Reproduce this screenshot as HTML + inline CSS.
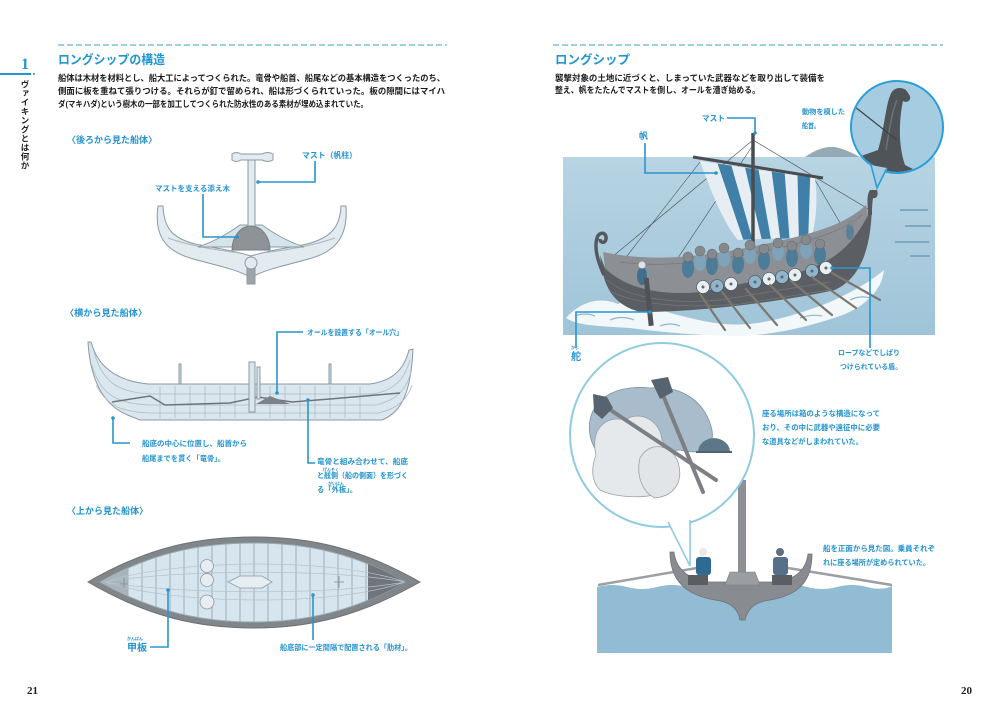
<!DOCTYPE html>
<html><head><meta charset="utf-8">
<style>
html,body{margin:0;padding:0;background:#fff;}
body{width:1000px;height:707px;overflow:hidden;position:relative;}
svg{position:absolute;left:0;top:0;}
text{font-family:"Liberation Sans","Noto Sans CJK JP",sans-serif;font-weight:bold;}
.b{fill:#1a1a1a;font-size:8.4px;}
.l{fill:#2393d0;font-size:7.4px;}
.h{fill:#2196d3;font-size:12.5px;}
.r{fill:#2393d0;font-size:4px;}
.c{stroke:#2a95cc;stroke-width:1.6;fill:none;}
.d{fill:#2a95cc;}
.pn{font-family:"Liberation Serif",serif;font-size:11px;fill:#222;}
#side{position:absolute;left:20px;top:80px;writing-mode:vertical-rl;font-family:"Liberation Sans","Noto Sans CJK JP",sans-serif;font-weight:bold;font-size:8.5px;letter-spacing:0.5px;line-height:10px;color:#222;}
</style></head><body>
<svg width="1000" height="707" viewBox="0 0 1000 707">
<defs>
 <clipPath id="lens"><path d="M100,582 C155,551 205,543 254,543 C305,543 355,553 405,582 C355,611 305,622 254,622 C205,622 155,613 100,582 Z"/></clipPath>
 <clipPath id="sail"><path d="M700,161 L815,178 C818,200 816,220 812,236 C790,240 760,238 738,240 C725,225 712,195 700,161 Z"/></clipPath>
 <clipPath id="c1"><circle cx="897" cy="127" r="45"/></clipPath>
 <clipPath id="c2"><circle cx="662" cy="435" r="91"/></clipPath>
 <linearGradient id="sea" x1="0" y1="0" x2="0" y2="1"><stop offset="0" stop-color="#b7d4e3"/><stop offset="1" stop-color="#9fc4d8"/></linearGradient>
</defs>

<!-- ============ LEFT PAGE ============ -->
<line x1="58" y1="45" x2="447" y2="45" stroke="#7cc0dc" stroke-width="1.5" stroke-dasharray="6 3"/>
<text x="25" y="69" text-anchor="middle" style="font-family:'Liberation Serif',serif;font-size:16px;fill:#2196d3;font-weight:bold">1</text>
<line x1="0" y1="74" x2="31" y2="74" stroke="#2196d3" stroke-width="2"/>
<circle cx="34" cy="74" r="1" fill="#2196d3"/>

<text class="h" x="58" y="64" textLength="107" lengthAdjust="spacingAndGlyphs">ロングシップの構造</text>
<text class="b" x="58" y="81" textLength="387" lengthAdjust="spacingAndGlyphs">船体は木材を材料とし、船大工によってつくられた。竜骨や船首、船尾などの基本構造をつくったのち、</text>
<text class="b" x="58" y="94" textLength="387" lengthAdjust="spacingAndGlyphs">側面に板を重ねて張りつける。それらが釘で留められ、船は形づくられていった。板の隙間にはマイハ</text>
<text class="b" x="58" y="107" textLength="310" lengthAdjust="spacingAndGlyphs">ダ(マキハダ)という樹木の一部を加工してつくられた防水性のある素材が埋め込まれていた。</text>

<!-- back view -->
<text class="l" x="67" y="143" style="font-size:9px" textLength="90" lengthAdjust="spacingAndGlyphs">〈後ろから見た船体〉</text>
<g stroke="#8c9aa3" stroke-width="1" fill="#e1ebf0">
 <path d="M158,206 L163,206 C164,228 172,238 195,244 C215,248 232,250 251,256 C270,250 287,248 307,244 C330,238 340,228 341,206 L346,206 C348,234 338,250 312,258 C292,264 270,268 256,275 L246,275 C232,268 210,264 190,258 C164,250 154,234 158,206 Z"/>
 <path d="M168,238 C190,246 215,250 240,253" fill="none" stroke="#a9b6bd"/>
 <path d="M335,238 C312,246 288,250 262,253" fill="none" stroke="#a9b6bd"/>
 <rect x="247" y="262" width="8" height="22" fill="#9ea5aa"/>
 <circle cx="251" cy="263" r="6"/>
 <path d="M198,247 C218,240 230,232 240,225 L262,225 C272,232 284,240 304,247 Z" fill="#d5e3ea"/>
 <rect x="248" y="158" width="7" height="70"/>
 <path d="M232,154 Q236,151 241,154 L262,154 Q268,151 273,154 L273,160 Q268,163 262,160 L241,160 Q236,163 232,160 Z"/>
 <path d="M232,250 A19,24 0 0 1 270,250 Z" fill="#8e9397" stroke="#777c80"/>
</g>
<text class="l" x="302" y="158" textLength="55" lengthAdjust="spacingAndGlyphs" style="font-size:8px">マスト（帆柱）</text>
<polyline class="c" points="315,161 315,182 258,182"/><circle class="d" cx="258" cy="182" r="1.8"/>
<text class="l" x="155" y="191" textLength="75" lengthAdjust="spacingAndGlyphs">マストを支える添え木</text>
<polyline class="c" points="203,194 203,237 237,237"/><circle class="d" cx="237" cy="237" r="1.8"/>

<!-- side view -->
<text class="l" x="65" y="316" style="font-size:9px" textLength="82" lengthAdjust="spacingAndGlyphs">〈横から見た船体〉</text>
<g stroke="#8c9aa3" stroke-width="1">
 <rect x="179" y="364" width="2" height="22" fill="#cfdde5"/>
 <rect x="329" y="364" width="2" height="22" fill="#cfdde5"/>
 <path d="M88,342 C90,375 100,405 130,416 L140,420 L382,420 C402,412 411,392 413,349 L409,350 C404,370 392,381 370,384 L148,384 C118,381 98,368 91,342 Z" fill="#dbe7ee"/>
 <path d="M94,352 C102,380 115,392 150,394 L372,394 C395,391 405,378 410,360" fill="none" stroke="#aebcc4" stroke-width="0.8"/>
 <path d="M92,365 C100,395 118,404 150,405 L375,405 C397,401 407,388 411,372" fill="none" stroke="#aebcc4" stroke-width="0.8"/>
 <path d="M96,385 C108,408 125,412 150,413 L378,413 C398,409 408,398 412,385" fill="none" stroke="#aebcc4" stroke-width="0.8"/>
 <path d="M160,386 V418 M175,386 V418 M190,386 V418 M205,386 V418 M220,386 V418 M235,386 V418 M270,386 V418 M285,386 V418 M300,386 V418 M315,386 V418 M330,386 V418 M345,386 V418 M360,386 V418" stroke="#a8b7bf" stroke-width="0.7"/>
 <polyline points="112,402 150,396 165,405 230,403 258,397 292,402 330,399 400,393" fill="none" stroke="#6c757b" stroke-width="1.5"/>
 <path d="M256,404 L270,396 L290,404 Z" fill="#7b8388" stroke="none"/>
 <rect x="249" y="362" width="6" height="50" fill="#dbe7ee"/>
 <rect x="257" y="367" width="3" height="32" fill="#dbe7ee"/>
</g>
<text class="l" x="307" y="335" textLength="96" lengthAdjust="spacingAndGlyphs">オールを設置する「オール穴」</text>
<polyline class="c" points="303,332 277,332 277,393"/><circle class="d" cx="277" cy="393" r="1.8"/>
<text class="l" x="142" y="446" textLength="105" lengthAdjust="spacingAndGlyphs">船底の中心に位置し、船首から</text>
<text class="l" x="142" y="461" textLength="83" lengthAdjust="spacingAndGlyphs">船尾までを貫く「竜骨」。</text>
<polyline class="c" points="113,418 113,443 130,443"/><circle class="d" cx="113" cy="418" r="1.8"/>
<text class="l" x="317" y="464" textLength="91" lengthAdjust="spacingAndGlyphs">竜骨と組み合わせて、船底</text>
<text class="r" x="323" y="471">げんそく</text>
<text class="l" x="317" y="478" textLength="91" lengthAdjust="spacingAndGlyphs">と舷側（船の側面）を形づく</text>
<text class="r" x="328" y="485">がいはん</text>
<text class="l" x="317" y="492" textLength="40" lengthAdjust="spacingAndGlyphs">る「外板」。</text>
<polyline class="c" points="308,400 308,463 315,463"/><circle class="d" cx="308" cy="400" r="1.8"/>

<!-- top view -->
<text class="l" x="67" y="514" style="font-size:9px" textLength="81" lengthAdjust="spacingAndGlyphs">〈上から見た船体〉</text>
<path d="M88,582 C150,546 200,537 254,537 C310,537 360,548 420,582 C360,616 310,628 254,628 C200,628 150,618 88,582 Z" fill="#80868a" stroke="#6b7175"/>
<path d="M100,582 C155,551 205,543 254,543 C305,543 355,553 405,582 C355,611 305,622 254,622 C205,622 155,613 100,582 Z" fill="#d6e5ee" stroke="#9aa9b2"/>
<g clip-path="url(#lens)">
 <path d="M368,540 L410,582 L368,624 Z" fill="#6f7579"/>
 <path d="M100,582 L128,560 L128,604 Z" fill="#a8b3ba"/>
 <path d="M128,540 V625 M142,540 V625 M156,540 V625 M170,540 V625 M184,540 V625 M198,540 V625 M212,540 V625 M226,540 V625 M240,540 V625 M254,540 V625 M268,540 V625 M282,540 V625 M296,540 V625 M310,540 V625 M324,540 V625 M338,540 V625 M352,540 V625 M366,540 V625" stroke="#9fb0ba" stroke-width="1"/>
 <path d="M105,582 C170,560 330,556 405,582 M105,582 C170,604 330,608 405,582 M105,582 C170,570 330,568 405,582 M105,582 C170,594 330,596 405,582" stroke="#b4c3cb" stroke-width="0.7" fill="none"/>
</g>
<g fill="#e6eef2" stroke="#8c9aa3" stroke-width="0.8">
 <circle cx="207" cy="566" r="6.5"/><circle cx="207" cy="580" r="6.5"/><circle cx="207" cy="602" r="7"/>
 <path d="M228,582 L240,576 L262,576 L272,582 L262,588 L240,588 Z"/>
 <path d="M120,584 h8 M124,578 v10 M334,582 h10 M339,576 v12" stroke="#7d8a92"/>
</g>
<text class="r" x="127" y="640">かんぱん</text>
<text class="l" x="127" y="651" style="font-size:10px" textLength="20" lengthAdjust="spacingAndGlyphs">甲板</text>
<polyline class="c" points="150,647 168,647 168,590"/><circle class="d" cx="168" cy="590" r="1.8"/>
<text class="l" x="280" y="650" textLength="132" lengthAdjust="spacingAndGlyphs">船底部に一定間隔で配置される「肋材」。</text>
<polyline class="c" points="313,640 313,595"/><circle class="d" cx="313" cy="595" r="1.8"/>

<text class="pn" x="27" y="694">21</text>

<!-- ============ RIGHT PAGE ============ -->
<line x1="553" y1="45" x2="943" y2="45" stroke="#7cc0dc" stroke-width="1.5" stroke-dasharray="6 3"/>
<text class="h" x="555" y="64" textLength="75" lengthAdjust="spacingAndGlyphs">ロングシップ</text>
<text class="b" x="555" y="81" textLength="270" lengthAdjust="spacingAndGlyphs">襲撃対象の土地に近づくと、しまっていた武器などを取り出して装備を</text>
<text class="b" x="555" y="93" textLength="205" lengthAdjust="spacingAndGlyphs">整え、帆をたたんでマストを倒し、オールを漕ぎ始める。</text>

<!-- sea scene -->
<path d="M805,157 C815,150 825,146 835,147 C845,149 852,153 860,157 Z" fill="#95a9b6"/>
<rect x="563" y="157" width="372" height="178" fill="url(#sea)"/>
<path d="M900,210 h28 M905,226 h26 M895,242 h34 M910,256 h20" stroke="#7fa8c0" stroke-width="2"/>
<!-- foam -->
<path d="M566,318 C580,302 600,296 618,304 C632,296 655,310 682,316 C705,322 725,326 748,324 C772,322 800,314 830,302 C852,292 870,282 884,270 C882,292 862,308 840,316 C810,326 780,334 742,336 C700,336 660,332 630,328 C600,326 578,326 566,318 Z" fill="#f2f7fa"/>
<path d="M575,316 q10,-4 20,0 M610,320 q12,-5 24,0 M660,326 q10,-4 20,0 M850,300 q10,-5 20,-2 M800,318 q12,-4 22,-2" stroke="#8fb7cc" stroke-width="1.2" fill="none"/>
<!-- rigging -->
<g stroke="#4a4d50" stroke-width="0.6" fill="none">
 <line x1="753" y1="140" x2="870" y2="210"/>
 <line x1="753" y1="140" x2="606" y2="262"/>
 <line x1="753" y1="145" x2="650" y2="300"/>
 <line x1="700" y1="162" x2="620" y2="265"/>
 <line x1="815" y1="180" x2="850" y2="240"/>
</g>
<!-- sail -->
<path d="M700,161 L815,178 C818,200 816,220 812,236 C790,240 760,238 738,240 C725,225 712,195 700,161 Z" fill="#e6eef3"/>
<g clip-path="url(#sail)" fill="#3f7fa8">
 <polygon points="713,150 727,150 754,245 745,245"/>
 <polygon points="741,150 755,150 772,245 763,245"/>
 <polygon points="769,150 783,150 790,245 781,245"/>
 <polygon points="797,150 811,150 808,245 799,245"/>
</g>
<line x1="693" y1="157" x2="823" y2="178" stroke="#4a4d50" stroke-width="3"/>
<line x1="753" y1="133" x2="753" y2="272" stroke="#4a4d50" stroke-width="3.5"/>
<!-- hull interior -->
<path d="M603,252 C650,262 700,258 760,245 C810,235 845,225 866,205 L868,215 C850,250 830,262 800,272 L700,292 C660,296 625,288 605,268 Z" fill="#8c9094"/>
<path d="M620,262 C660,268 710,262 770,250 C815,240 845,230 862,215" stroke="#74787c" stroke-width="0.8" fill="none"/>
<!-- crew -->
<g>
 <g fill="#4d7c98">
  <ellipse cx="688" cy="268" rx="6" ry="10"/><ellipse cx="712" cy="265" rx="6" ry="10"/><ellipse cx="738" cy="264" rx="6" ry="10"/>
  <ellipse cx="764" cy="260" rx="6" ry="10"/><ellipse cx="792" cy="257" rx="6" ry="10"/><ellipse cx="820" cy="255" rx="6" ry="10"/>
 </g>
 <g fill="#7fa3b8">
  <ellipse cx="700" cy="262" rx="6" ry="9"/><ellipse cx="724" cy="258" rx="6" ry="9"/><ellipse cx="750" cy="255" rx="6" ry="9"/>
  <ellipse cx="778" cy="252" rx="6" ry="9"/><ellipse cx="806" cy="250" rx="6" ry="9"/>
 </g>
 <g fill="#85898d" stroke="#555" stroke-width="0.4">
  <circle cx="688" cy="257" r="5"/><circle cx="700" cy="251" r="5"/><circle cx="712" cy="254" r="5"/><circle cx="724" cy="248" r="5"/>
  <circle cx="738" cy="253" r="5"/><circle cx="750" cy="245" r="5"/><circle cx="764" cy="249" r="5"/><circle cx="778" cy="243" r="5"/>
  <circle cx="792" cy="246" r="5"/><circle cx="806" cy="240" r="5"/><circle cx="820" cy="244" r="5"/>
 </g>
 <ellipse cx="642" cy="276" rx="5" ry="9" fill="#3f6f8e"/><circle cx="642" cy="265" r="3.5" fill="#dfe3e6"/>
 <ellipse cx="850" cy="232" rx="4" ry="8" fill="#5c7f96"/><circle cx="851" cy="223" r="3" fill="#85898d"/>
</g>
<!-- hull near side -->
<path d="M605,268 C625,288 660,296 700,292 L800,272 C830,262 850,250 868,215 L872,200 C872,250 860,278 835,290 C780,302 700,312 640,312 C615,305 603,290 600,255 Z" fill="#5b5f63"/>
<path d="M607,280 C630,300 680,304 720,300 L830,282 M612,292 C640,306 690,308 740,304 L830,290" stroke="#74787c" stroke-width="0.7" fill="none"/>
<path d="M604,275 C598,262 594,248 597,238 C599,231 607,232 606,239 C605,244 600,243 600,239" stroke="#55595d" stroke-width="3.5" fill="none"/>
<path d="M868,215 C868,205 866,196 870,190 L877,190 C879,196 876,199 873,198 C872,205 872,210 872,215 Z" fill="#55595d"/>
<rect x="646" y="278" width="5" height="48" fill="#4f5357" transform="rotate(-6 648 300)"/>
<!-- shields -->
<g stroke="#3d4a55" stroke-width="0.6">
 <circle cx="703" cy="287" r="6.5" fill="#e8eff3"/><circle cx="717" cy="286" r="6.5" fill="#8fb4cb"/>
 <circle cx="731" cy="284" r="6.5" fill="#e8eff3"/><circle cx="755" cy="282" r="6.5" fill="#8fb4cb"/>
 <circle cx="769" cy="279" r="6.5" fill="#e8eff3"/><circle cx="782" cy="277" r="6.5" fill="#8fb4cb"/>
 <circle cx="795" cy="275" r="6.5" fill="#e8eff3"/><circle cx="812" cy="271" r="6.5" fill="#8fb4cb"/>
 <circle cx="826" cy="268" r="6.5" fill="#e8eff3"/>
</g>
<g fill="#5b6670">
 <circle cx="703" cy="287" r="1.5"/><circle cx="717" cy="286" r="1.5"/><circle cx="731" cy="284" r="1.5"/><circle cx="755" cy="282" r="1.5"/><circle cx="769" cy="279" r="1.5"/><circle cx="782" cy="277" r="1.5"/><circle cx="795" cy="275" r="1.5"/><circle cx="812" cy="271" r="1.5"/><circle cx="826" cy="268" r="1.5"/>
</g>
<!-- oars -->
<g stroke="#7d776f" stroke-width="2.2" stroke-linecap="round">
 <line x1="700" y1="294" x2="725" y2="330"/><line x1="722" y1="292" x2="750" y2="328"/>
 <line x1="746" y1="289" x2="777" y2="325"/><line x1="770" y1="285" x2="806" y2="320"/>
 <line x1="791" y1="281" x2="832" y2="315"/><line x1="812" y1="277" x2="856" y2="308"/>
 <line x1="832" y1="273" x2="880" y2="300"/>
</g>

<!-- top-right circle -->
<circle cx="897" cy="127" r="46" fill="#a5cce0"/>
<g clip-path="url(#c1)">
 <path d="M850,160 L878,150 C884,130 886,105 890,96 C892,88 900,86 906,90 L910,96 C911,101 907,103 903,101 C899,120 898,145 905,165 L935,180 L850,180 Z" fill="#4f5458"/>
 <path d="M886,150 C890,125 893,108 897,100" stroke="#6d7276" stroke-width="1.5" fill="none"/>
 <line x1="850" y1="103" x2="897" y2="140" stroke="#3e4246" stroke-width="1.2"/>
</g>
<circle cx="897" cy="127" r="46" fill="none" stroke="#2a9fd6" stroke-width="2"/>
<path d="M871,165 L877,188 L887,168" fill="#a5cce0" stroke="#2a9fd6" stroke-width="1.6"/>

<!-- labels scene -->
<text class="l" x="702" y="121" style="font-size:8px" textLength="23" lengthAdjust="spacingAndGlyphs">マスト</text>
<polyline class="c" points="727,118 755,118 755,133"/><circle class="d" cx="755" cy="133" r="1.8"/>
<text class="l" x="639" y="139" style="font-size:9px">帆</text>
<polyline class="c" points="645,143 645,173 716,173"/><circle class="d" cx="716" cy="173" r="1.8"/>
<text class="l" x="802" y="114" style="font-size:7px" textLength="43" lengthAdjust="spacingAndGlyphs">動物を模した</text>
<text class="l" x="802" y="128" style="font-size:7px" textLength="18" lengthAdjust="spacingAndGlyphs">船首。</text>
<text class="r" x="571" y="349">かじ</text>
<text class="l" x="571" y="360" style="font-size:10px">舵</text>
<polyline class="c" points="576,348 576,312 650,312"/><circle class="d" cx="650" cy="312" r="1.8"/>
<text class="l" x="838" y="355" style="font-size:7px" textLength="62" lengthAdjust="spacingAndGlyphs">ロープなどでしばり</text>
<text class="l" x="840" y="369" style="font-size:7px" textLength="62" lengthAdjust="spacingAndGlyphs">つけられている盾。</text>
<polyline class="c" points="870,348 870,268 832,268"/><circle class="d" cx="832" cy="268" r="1.8"/>

<!-- bottom circle -->
<line x1="742" y1="480" x2="742" y2="580" stroke="#8d9094" stroke-width="8"/>
<circle cx="662" cy="435" r="92" fill="#fff" stroke="#8fcbe2" stroke-width="2"/>
<g clip-path="url(#c2)">
 <path d="M590,420 C595,395 620,385 650,388 C680,385 705,400 712,430 C715,450 700,455 680,450 L600,455 C590,445 588,430 590,420 Z" fill="#a9bccb" stroke="#7d91a0" stroke-width="0.8"/>
 <path d="M596,455 C590,430 605,415 625,420 C640,410 660,420 662,440 C670,450 675,470 668,490 C650,500 615,498 600,490 C590,480 592,465 596,455 Z" fill="#e6e9eb" stroke="#9aa1a6" stroke-width="0.8"/>
 <path d="M640,458 C650,440 672,445 678,462 C684,482 674,496 655,498 C642,492 636,475 640,458 Z" fill="#e1e5e8" stroke="#9aa1a6" stroke-width="0.8"/>
 <path d="M698,452 A15,13 0 0 1 730,452 Z" fill="#5e7788"/>
 <line x1="696" y1="452" x2="732" y2="452" stroke="#4e6474" stroke-width="2"/>
 <line x1="603" y1="405" x2="716" y2="480" stroke="#7c8084" stroke-width="4" stroke-linecap="round"/>
 <polygon points="593,394 607,397 613,408 602,419 594,412" fill="#55646f"/>
 <line x1="660" y1="388" x2="703" y2="492" stroke="#7c8084" stroke-width="4" stroke-linecap="round"/>
 <polygon points="651,380 668,377 673,392 660,399" fill="#55646f"/>
</g>
<path d="M668,522 L690,566 L690,520" fill="#fff" stroke="#8fcbe2" stroke-width="1.6"/>
<text class="l" x="762" y="416" textLength="118" lengthAdjust="spacingAndGlyphs">座る場所は箱のような構造になって</text>
<text class="l" x="762" y="430" textLength="118" lengthAdjust="spacingAndGlyphs">おり、その中に武器や遠征中に必要</text>
<text class="l" x="762" y="444" textLength="101" lengthAdjust="spacingAndGlyphs">な道具などがしまわれていた。</text>

<!-- front view -->
<path d="M597,587 Q612,583 627,587 T657,587 T687,587 T717,587 T747,587 T777,587 T807,587 T837,587 T867,587 T892,586 L892,653 L597,653 Z" fill="#92bcd3"/>
<line x1="598" y1="585" x2="697" y2="568" stroke="#9ca0a4" stroke-width="2.5"/>
<line x1="788" y1="568" x2="892" y2="585" stroke="#9ca0a4" stroke-width="2.5"/>
<path d="M670,552 L674,552 C676,570 690,580 710,582 L775,582 C795,580 806,570 808,554 L812,554 C812,580 800,595 770,600 C755,602 748,608 745,620 L740,620 C738,608 730,602 715,600 C685,595 670,580 670,552 Z" fill="#888c90" stroke="#6f7377" stroke-width="0.8"/>
<polygon points="725,585 730,572 755,572 760,585" fill="#9a9ea2" stroke="#7b7f83" stroke-width="0.6"/>
<rect x="688" y="575" width="20" height="10" fill="#5a5e62"/>
<rect x="772" y="575" width="20" height="10" fill="#5a5e62"/>
<rect x="696" y="557" width="15" height="18" rx="3" fill="#2f6a90"/>
<circle cx="703" cy="552" r="4" fill="#e8e8e8"/>
<rect x="773" y="557" width="15" height="18" rx="3" fill="#56708a"/>
<circle cx="780" cy="552" r="4" fill="#5e6f7f"/>
<text class="l" x="823" y="551" textLength="112" lengthAdjust="spacingAndGlyphs">船を正面から見た図。乗員それぞ</text>
<text class="l" x="823" y="565" textLength="107" lengthAdjust="spacingAndGlyphs">れに座る場所が定められていた。</text>

<text class="pn" x="961" y="694">20</text>
</svg>
<div id="side">ヴァイキングとは何か</div>
</body></html>
